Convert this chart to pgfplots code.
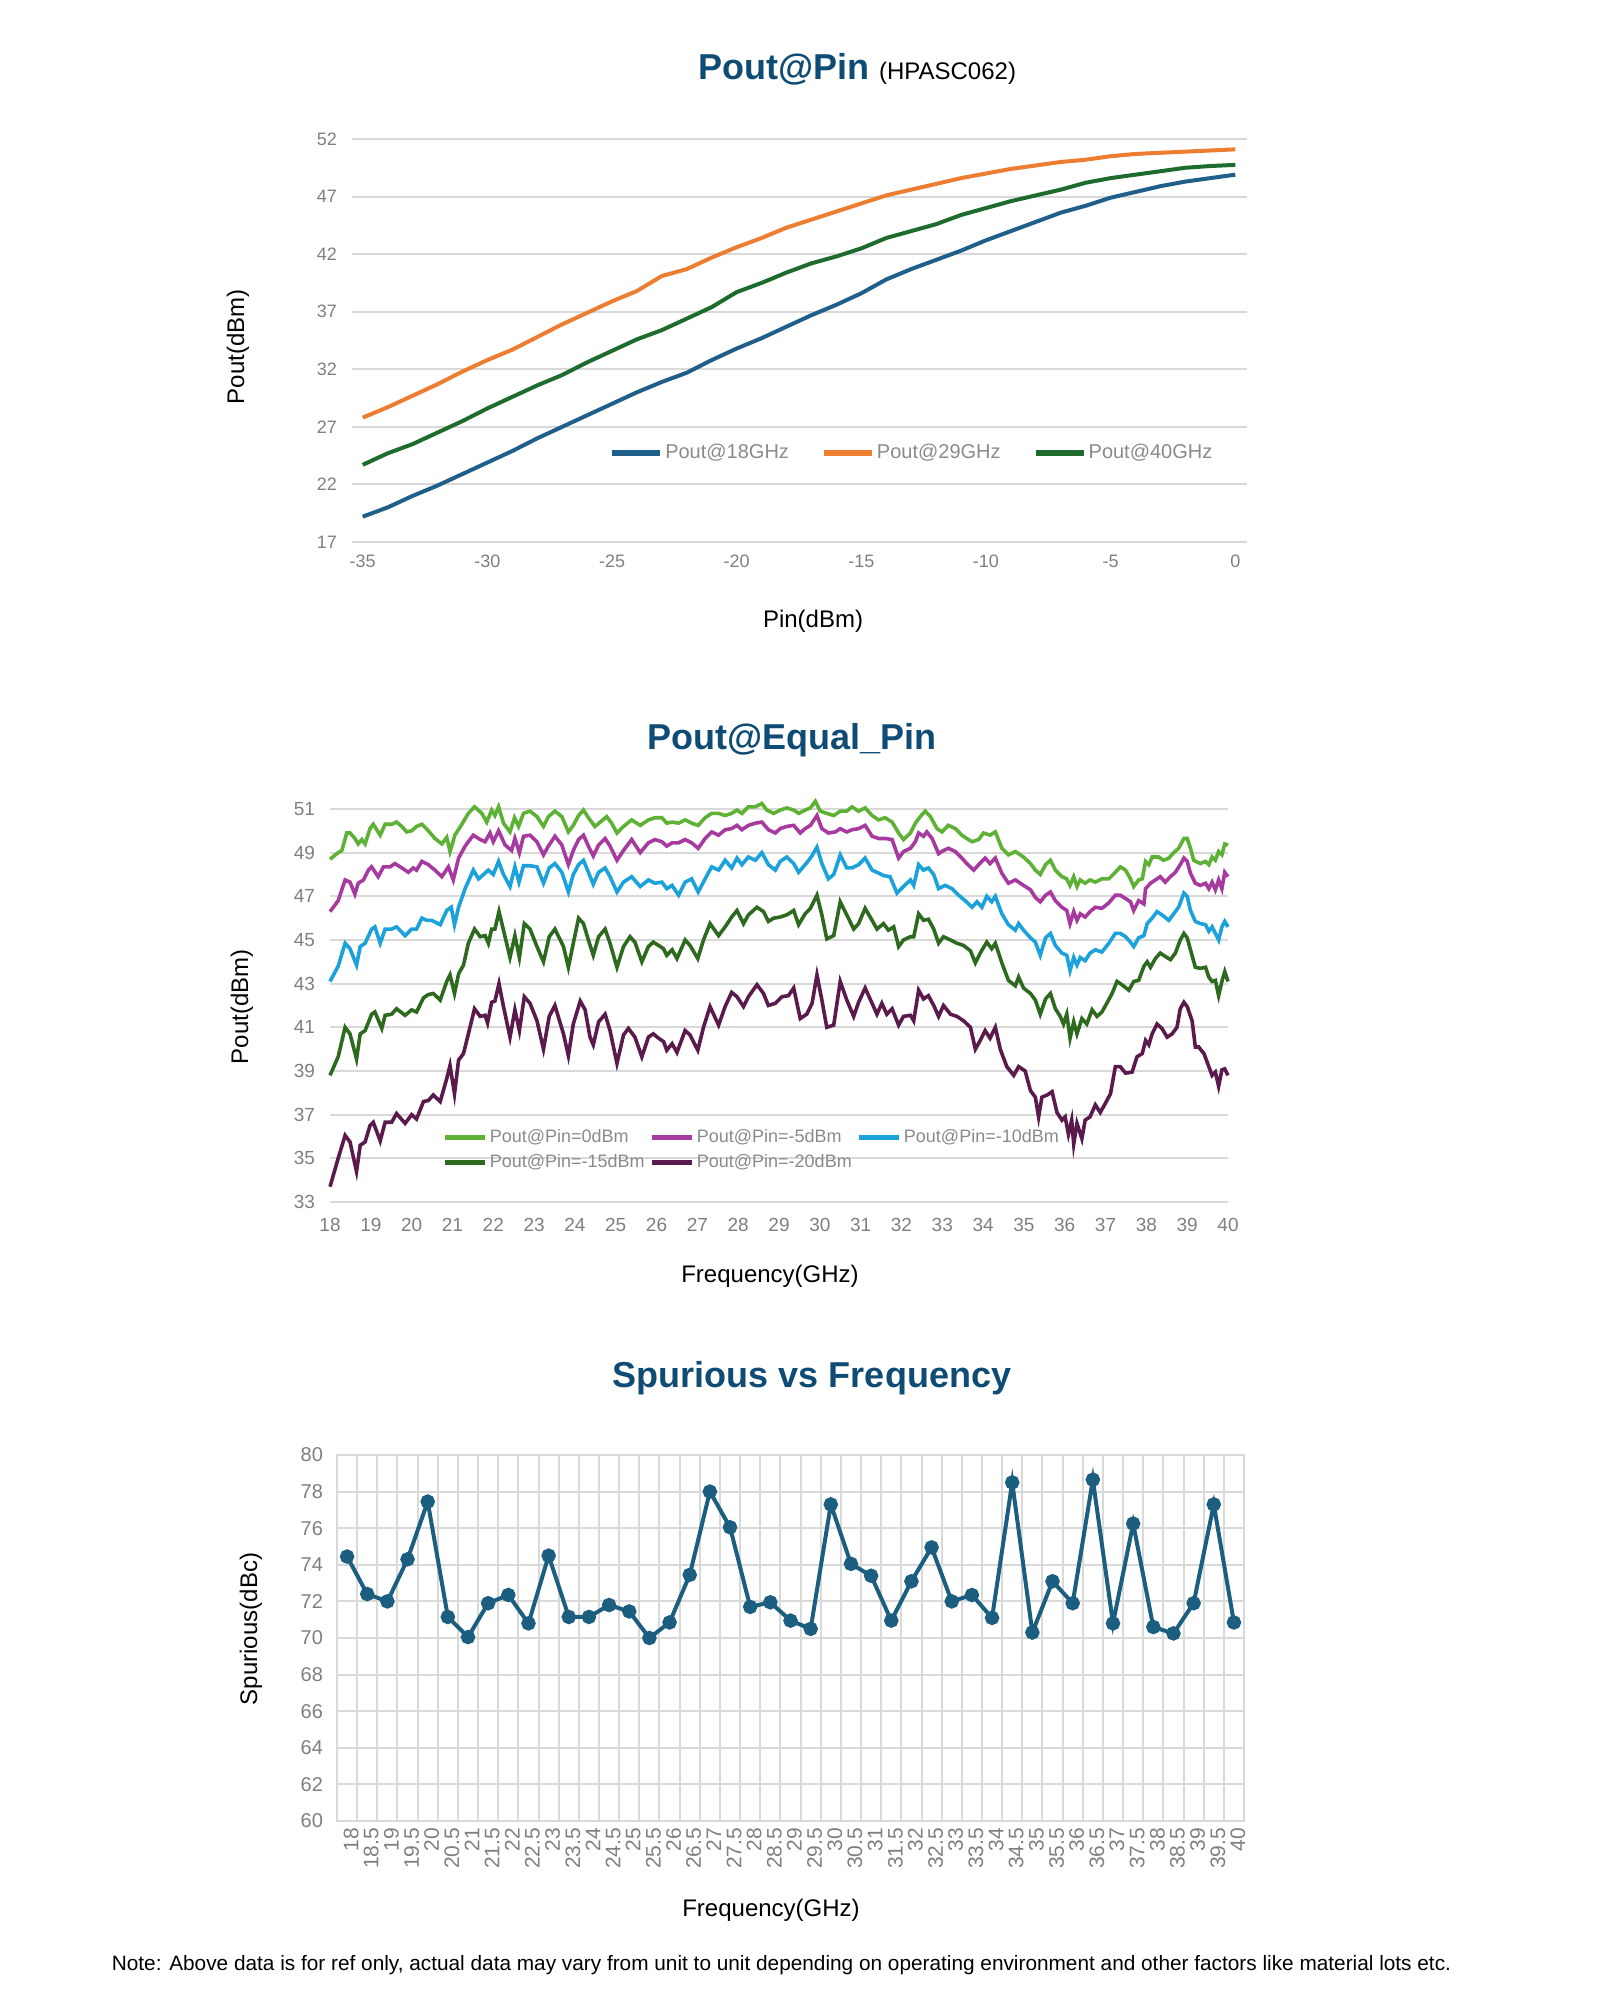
\documentclass[border=0pt]{standalone}
\usepackage{fontspec}
\setmainfont{Liberation Sans}
\usepackage{pgfplots}
\pgfplotsset{compat=1.18}
\definecolor{gridgray}{HTML}{D9D9D9}
\definecolor{tickgray}{HTML}{7F7F7F}
\definecolor{legendgray}{HTML}{8A8A8A}
\definecolor{titleblue}{HTML}{0F4C75}
\definecolor{cA}{HTML}{1F5F8A}
\definecolor{cB}{HTML}{ED7D31}
\definecolor{cC}{HTML}{1E6B2E}
\definecolor{gA}{HTML}{5DB135}
\definecolor{gB}{HTML}{A73A9F}
\definecolor{gC}{HTML}{1CA2DB}
\definecolor{gD}{HTML}{2D6A1F}
\definecolor{gE}{HTML}{5A1B4C}
\definecolor{spur}{HTML}{1B5E80}
\pgfplotsset{
  base/.style={
    scale only axis, anchor=south west,
    axis line style={draw=none},
    major tick length=0pt, minor tick length=0pt,
    ymajorgrids,
    major grid style={line width=1pt, draw=gridgray},
    minor grid style={line width=1pt, draw=gridgray},
    /pgf/number format/assume math mode=true,
  }
}
\begin{document}
\begin{tikzpicture}
\path[use as bounding box] (0pt,0pt) rectangle (800pt,1000pt);

% ---------------- Chart 1 ----------------
\node[anchor=base west, font=\bfseries\fontsize{18}{20}\selectfont, text=titleblue] at (345.5pt,960pt) {Pout@Pin};
\node[anchor=base west, font=\fontsize{12}{14}\selectfont] at (436pt,960pt) {(HPASC062)};
\node[rotate=90, font=\fontsize{12}{14}\selectfont] at (119pt,826.5pt) {Pout(dBm)};
\node[font=\fontsize{12}{14}\selectfont] at (406.5pt,689.5pt) {Pin(dBm)};
\begin{axis}[base,
  at={(176pt,729pt)}, width=447.5pt, height=201.5pt,
  xmin=-35.43, xmax=0.47, ymin=17, ymax=52,
  xtick={-35,-30,...,0}, ytick={17,22,...,52},
  tick label style={font=\fontsize{9}{10}\selectfont, text=tickgray},
  xticklabel style={yshift=-3pt},
  yticklabel style={xshift=-4pt},
  legend columns=3, legend cell align=left,
  legend style={draw=none, fill=none, inner sep=0pt, at={(0.287,0.221)}, anchor=west,
    font=\fontsize{10}{12}\selectfont, text=legendgray,
    nodes={inner xsep=1pt},
    /tikz/every even column/.append style={column sep=15pt}},
  legend image code/.code={\draw[#1, line width=3pt] (0pt,0pt) -- (24pt,0pt);},
]
\addplot[cA, line width=2pt] coordinates {(-35,19.2)(-34,20.0)(-33,21.0)(-32,21.9)(-31,22.9)(-30,23.9)(-29,24.9)(-28,26.0)(-27,27.0)(-26,28.0)(-25,29.0)(-24,30.0)(-23,30.9)(-22,31.7)(-21,32.8)(-20,33.8)(-19,34.7)(-18,35.7)(-17,36.7)(-16,37.6)(-15,38.6)(-14,39.8)(-13,40.7)(-12,41.5)(-11,42.3)(-10,43.2)(-9,44.0)(-8,44.8)(-7,45.6)(-6,46.2)(-5,46.9)(-4,47.4)(-3,47.9)(-2,48.3)(-1,48.6)(0,48.9)};
\addlegendentry{Pout@18GHz}
\addplot[cB, line width=2pt] coordinates {(-35,27.8)(-34,28.7)(-33,29.7)(-32,30.7)(-31,31.8)(-30,32.8)(-29,33.7)(-28,34.8)(-27,35.9)(-26,36.9)(-25,37.9)(-24,38.8)(-23,40.1)(-22,40.7)(-21,41.7)(-20,42.6)(-19,43.4)(-18,44.3)(-17,45.0)(-16,45.7)(-15,46.4)(-14,47.1)(-13,47.6)(-12,48.1)(-11,48.6)(-10,49.0)(-9,49.4)(-8,49.7)(-7,50.0)(-6,50.2)(-5,50.5)(-4,50.7)(-3,50.8)(-2,50.9)(-1,51.0)(0,51.1)};
\addlegendentry{Pout@29GHz}
\addplot[cC, line width=2pt] coordinates {(-35,23.7)(-34,24.7)(-33,25.5)(-32,26.5)(-31,27.5)(-30,28.6)(-29,29.6)(-28,30.6)(-27,31.5)(-26,32.6)(-25,33.6)(-24,34.6)(-23,35.4)(-22,36.4)(-21,37.4)(-20,38.7)(-19,39.5)(-18,40.4)(-17,41.2)(-16,41.8)(-15,42.5)(-14,43.4)(-13,44.0)(-12,44.6)(-11,45.4)(-10,46.0)(-9,46.6)(-8,47.1)(-7,47.6)(-6,48.2)(-5,48.6)(-4,48.9)(-3,49.2)(-2,49.5)(-1,49.65)(0,49.75)};
\addlegendentry{Pout@40GHz}
\end{axis}

% ---------------- Chart 2 ----------------
\node[anchor=base, font=\bfseries\fontsize{18}{20}\selectfont, text=titleblue] at (396pt,625pt) {Pout@Equal\_Pin};
\node[rotate=90, font=\fontsize{12}{14}\selectfont] at (121pt,496.5pt) {Pout(dBm)};
\node[font=\fontsize{12}{14}\selectfont] at (385pt,362pt) {Frequency(GHz)};
\begin{axis}[base,
  at={(165pt,399pt)}, width=449pt, height=196.5pt,
  xmin=18, xmax=40, ymin=33, ymax=51, clip=false,
  xtick={18,19,...,40}, ytick={33,35,...,51},
  tick label style={font=\fontsize{9.5}{11}\selectfont, text=tickgray},
  xticklabel style={yshift=-4.5pt},
  yticklabel style={xshift=-4pt},
  legend columns=3, legend cell align=left,
  legend style={draw=none, fill=none, inner sep=0pt, at={(0.125,0.132)}, anchor=west,
    font=\fontsize{9}{10}\selectfont, text=legendgray,
    nodes={inner xsep=1pt, inner ysep=2.2pt},
    /tikz/every even column/.append style={column sep=1.5pt}},
  legend image code/.code={\draw[#1, line width=2.6pt] (0pt,0pt) -- (20pt,0pt);},
]
\addplot[gA, line width=1.8pt] coordinates {(18.0,48.7)(18.2,49.0)(18.29,49.1)(18.41,49.9)(18.49,49.9)(18.61,49.65)(18.69,49.4)(18.78,49.6)(18.86,49.4)(18.98,50.1)(19.06,50.3)(19.23,49.8)(19.35,50.3)(19.51,50.3)(19.63,50.4)(19.76,50.2)(19.88,49.95)(20.0,50.0)(20.12,50.2)(20.25,50.3)(20.41,50.0)(20.57,49.65)(20.74,49.4)(20.86,49.7)(20.94,49.05)(21.06,49.8)(21.23,50.3)(21.39,50.8)(21.54,51.1)(21.72,50.8)(21.84,50.4)(21.96,50.95)(22.04,50.7)(22.13,51.1)(22.25,50.35)(22.41,49.95)(22.52,50.6)(22.62,50.2)(22.74,50.8)(22.9,50.9)(23.07,50.65)(23.23,50.2)(23.35,50.65)(23.51,50.9)(23.68,50.65)(23.84,49.95)(23.96,50.25)(24.09,50.7)(24.21,50.95)(24.33,50.6)(24.49,50.2)(24.62,50.4)(24.78,50.65)(24.9,50.35)(25.03,49.9)(25.19,50.2)(25.39,50.5)(25.6,50.25)(25.8,50.5)(25.96,50.6)(26.13,50.6)(26.25,50.35)(26.38,50.4)(26.54,50.35)(26.7,50.5)(26.86,50.35)(27.02,50.25)(27.19,50.6)(27.35,50.8)(27.52,50.8)(27.68,50.7)(27.84,50.8)(27.97,50.95)(28.09,50.8)(28.25,51.1)(28.42,51.1)(28.58,51.25)(28.7,50.95)(28.87,50.8)(29.03,50.95)(29.19,51.05)(29.36,50.95)(29.48,50.8)(29.64,50.95)(29.77,51.05)(29.89,51.35)(30.01,50.9)(30.17,50.8)(30.34,50.7)(30.5,50.9)(30.66,50.9)(30.79,51.1)(30.95,50.9)(31.11,51.05)(31.28,50.7)(31.44,50.5)(31.6,50.6)(31.77,50.4)(31.93,49.9)(32.05,49.6)(32.22,49.9)(32.34,50.35)(32.46,50.65)(32.58,50.9)(32.71,50.65)(32.87,50.1)(32.99,49.95)(33.15,50.25)(33.32,50.1)(33.48,49.8)(33.6,49.65)(33.73,49.5)(33.89,49.6)(34.01,49.9)(34.17,49.8)(34.3,49.95)(34.46,49.2)(34.62,48.9)(34.79,49.05)(34.99,48.8)(35.16,48.5)(35.28,48.2)(35.4,48.0)(35.53,48.45)(35.65,48.65)(35.77,48.2)(35.93,47.9)(36.05,47.8)(36.13,47.5)(36.22,47.9)(36.3,47.45)(36.38,47.75)(36.5,47.6)(36.62,47.75)(36.75,47.65)(36.91,47.8)(37.08,47.8)(37.24,48.1)(37.36,48.35)(37.49,48.2)(37.61,47.8)(37.69,47.45)(37.81,47.75)(37.9,47.8)(37.98,48.6)(38.06,48.45)(38.14,48.8)(38.3,48.8)(38.42,48.65)(38.55,48.75)(38.67,49.0)(38.79,49.2)(38.92,49.65)(39.0,49.65)(39.08,49.2)(39.16,48.65)(39.32,48.5)(39.45,48.6)(39.53,48.45)(39.61,48.8)(39.69,48.65)(39.77,49.05)(39.85,48.9)(39.92,49.4)(40.0,49.35)};
\addlegendentry{Pout@Pin=0dBm}
\addplot[gB, line width=1.8pt] coordinates {(18.0,46.3)(18.2,46.8)(18.37,47.75)(18.49,47.65)(18.61,47.1)(18.69,47.6)(18.82,47.75)(18.94,48.2)(19.02,48.35)(19.18,47.9)(19.31,48.35)(19.47,48.35)(19.59,48.5)(19.76,48.3)(19.92,48.1)(20.04,48.3)(20.12,48.2)(20.25,48.6)(20.41,48.45)(20.57,48.2)(20.74,47.9)(20.9,48.35)(21.02,47.75)(21.15,48.75)(21.31,49.3)(21.51,49.8)(21.68,49.6)(21.8,49.5)(21.92,49.9)(22.0,49.5)(22.13,50.0)(22.29,49.35)(22.45,49.1)(22.53,49.65)(22.64,49.0)(22.74,49.75)(22.9,49.8)(23.07,49.5)(23.23,48.9)(23.35,49.3)(23.51,49.75)(23.68,49.35)(23.84,48.45)(23.96,49.1)(24.09,49.6)(24.21,49.8)(24.33,49.3)(24.45,48.85)(24.58,49.35)(24.74,49.65)(24.86,49.3)(25.03,48.65)(25.19,49.1)(25.39,49.6)(25.6,49.0)(25.8,49.45)(25.96,49.6)(26.13,49.5)(26.25,49.3)(26.38,49.45)(26.54,49.45)(26.7,49.6)(26.86,49.45)(27.02,49.2)(27.19,49.65)(27.35,49.95)(27.52,49.8)(27.68,50.05)(27.84,50.1)(27.97,50.25)(28.09,50.05)(28.25,50.25)(28.42,50.35)(28.58,50.4)(28.74,50.05)(28.91,49.9)(29.03,50.1)(29.19,50.2)(29.36,50.25)(29.52,49.9)(29.64,50.1)(29.77,50.25)(29.93,50.7)(30.05,50.1)(30.21,49.9)(30.38,49.95)(30.5,50.1)(30.66,49.95)(30.79,50.05)(30.95,50.1)(31.11,50.25)(31.28,49.75)(31.44,49.65)(31.6,49.65)(31.77,49.6)(31.93,48.75)(32.05,49.05)(32.22,49.2)(32.34,49.5)(32.42,49.9)(32.54,49.75)(32.62,49.95)(32.75,49.65)(32.91,48.95)(33.03,49.1)(33.15,49.2)(33.32,49.05)(33.48,48.75)(33.6,48.5)(33.77,48.2)(33.89,48.45)(34.05,48.75)(34.17,48.5)(34.3,48.75)(34.46,48.05)(34.62,47.6)(34.79,47.75)(34.99,47.5)(35.16,47.3)(35.28,46.95)(35.4,46.75)(35.53,47.05)(35.65,47.2)(35.77,46.8)(35.93,46.5)(36.05,46.35)(36.13,45.75)(36.22,46.3)(36.3,45.9)(36.38,46.2)(36.5,46.05)(36.62,46.3)(36.75,46.5)(36.91,46.45)(37.08,46.7)(37.24,47.05)(37.36,47.05)(37.49,46.9)(37.61,46.75)(37.69,46.35)(37.81,46.8)(37.94,46.65)(37.98,47.35)(38.1,47.6)(38.22,47.75)(38.34,47.9)(38.46,47.65)(38.59,47.9)(38.71,48.1)(38.83,48.45)(38.92,48.75)(39.0,48.6)(39.08,48.05)(39.2,47.6)(39.32,47.5)(39.45,47.6)(39.53,47.35)(39.61,47.65)(39.69,47.3)(39.77,47.75)(39.85,47.35)(39.92,48.1)(40.0,47.9)};
\addlegendentry{Pout@Pin=-5dBm}
\addplot[gC, line width=1.8pt] coordinates {(18.0,43.1)(18.2,43.8)(18.37,44.85)(18.49,44.6)(18.65,43.85)(18.74,44.7)(18.86,44.85)(19.02,45.5)(19.1,45.6)(19.23,44.85)(19.35,45.5)(19.51,45.5)(19.63,45.6)(19.84,45.2)(20.0,45.5)(20.12,45.5)(20.25,46.0)(20.37,45.9)(20.49,45.9)(20.7,45.7)(20.86,46.35)(20.97,46.5)(21.05,45.7)(21.15,46.5)(21.31,47.35)(21.51,48.2)(21.64,47.8)(21.76,48.0)(21.88,48.2)(22.0,48.0)(22.13,48.6)(22.25,48.0)(22.41,47.45)(22.53,48.35)(22.63,47.65)(22.74,48.4)(22.9,48.4)(23.07,48.35)(23.23,47.6)(23.37,48.3)(23.51,48.5)(23.68,48.1)(23.84,47.2)(23.96,48.0)(24.09,48.45)(24.21,48.65)(24.33,48.1)(24.45,47.55)(24.58,48.1)(24.74,48.3)(24.86,47.9)(25.03,47.2)(25.19,47.65)(25.39,47.9)(25.6,47.45)(25.8,47.75)(25.96,47.6)(26.13,47.65)(26.25,47.35)(26.38,47.5)(26.54,47.05)(26.7,47.65)(26.86,47.8)(27.02,47.2)(27.19,47.8)(27.35,48.35)(27.52,48.2)(27.68,48.65)(27.84,48.3)(27.97,48.75)(28.09,48.45)(28.25,48.8)(28.42,48.65)(28.58,49.0)(28.74,48.45)(28.91,48.2)(29.03,48.6)(29.19,48.8)(29.36,48.5)(29.48,48.1)(29.64,48.45)(29.77,48.75)(29.93,49.25)(30.05,48.5)(30.21,47.8)(30.34,48.0)(30.5,48.9)(30.66,48.3)(30.79,48.3)(30.95,48.45)(31.11,48.75)(31.28,48.2)(31.4,48.1)(31.56,47.95)(31.72,47.9)(31.89,47.15)(32.05,47.45)(32.22,47.75)(32.3,47.5)(32.42,48.45)(32.54,48.2)(32.66,48.3)(32.79,48.0)(32.91,47.35)(33.07,47.5)(33.24,47.35)(33.4,47.05)(33.56,46.8)(33.73,46.5)(33.85,46.75)(33.97,46.5)(34.09,47.0)(34.21,46.75)(34.3,47.0)(34.46,46.2)(34.62,45.7)(34.79,45.45)(34.87,45.75)(34.99,45.45)(35.16,45.1)(35.28,44.9)(35.4,44.3)(35.53,45.1)(35.65,45.3)(35.77,44.75)(35.93,44.4)(36.05,44.3)(36.13,43.6)(36.22,44.2)(36.3,43.85)(36.38,44.2)(36.5,44.05)(36.62,44.4)(36.75,44.55)(36.91,44.45)(37.08,44.85)(37.24,45.3)(37.36,45.3)(37.49,45.15)(37.61,44.9)(37.69,44.7)(37.81,45.1)(37.94,45.2)(38.02,45.75)(38.14,46.0)(38.26,46.3)(38.38,46.15)(38.55,45.9)(38.67,46.2)(38.79,46.5)(38.92,47.15)(39.0,47.0)(39.08,46.35)(39.2,45.85)(39.32,45.75)(39.45,45.7)(39.53,45.4)(39.61,45.6)(39.69,45.3)(39.77,45.0)(39.85,45.6)(39.92,45.85)(40.0,45.6)};
\addlegendentry{Pout@Pin=-10dBm}
\addplot[gD, line width=1.8pt] coordinates {(18.0,38.8)(18.2,39.65)(18.37,41.0)(18.49,40.7)(18.65,39.55)(18.74,40.7)(18.86,40.85)(19.02,41.6)(19.1,41.7)(19.27,40.95)(19.35,41.55)(19.51,41.6)(19.63,41.85)(19.84,41.55)(20.0,41.8)(20.12,41.7)(20.29,42.35)(20.41,42.5)(20.53,42.55)(20.7,42.25)(20.86,43.1)(20.94,43.4)(21.05,42.55)(21.15,43.45)(21.27,43.85)(21.39,44.85)(21.54,45.5)(21.68,45.15)(21.8,45.2)(21.88,44.85)(21.96,45.5)(22.04,45.5)(22.14,46.3)(22.25,45.45)(22.41,44.2)(22.53,45.2)(22.64,44.2)(22.76,45.75)(22.9,45.5)(23.07,44.7)(23.23,44.0)(23.37,45.15)(23.51,45.5)(23.72,44.7)(23.84,43.75)(23.96,44.85)(24.09,46.0)(24.21,45.75)(24.33,45.0)(24.45,44.3)(24.58,45.15)(24.74,45.5)(24.86,44.85)(25.03,43.75)(25.19,44.7)(25.35,45.15)(25.47,44.9)(25.64,44.0)(25.8,44.7)(25.92,44.9)(26.05,44.75)(26.17,44.6)(26.25,44.3)(26.38,44.55)(26.5,44.15)(26.7,45.0)(26.82,44.75)(27.01,44.15)(27.15,45.0)(27.31,45.75)(27.52,45.2)(27.68,45.6)(27.84,46.05)(27.97,46.35)(28.13,45.75)(28.25,46.15)(28.46,46.5)(28.62,46.3)(28.74,45.85)(28.87,46.0)(29.03,46.05)(29.19,46.15)(29.36,46.35)(29.48,45.7)(29.64,46.2)(29.77,46.45)(29.93,47.05)(30.05,46.15)(30.17,45.05)(30.34,45.2)(30.5,46.75)(30.66,46.15)(30.83,45.5)(30.95,45.75)(31.11,46.45)(31.28,45.9)(31.4,45.5)(31.56,45.75)(31.68,45.45)(31.81,45.6)(31.93,44.7)(32.05,45.0)(32.22,45.15)(32.3,45.15)(32.42,46.2)(32.54,45.9)(32.66,45.95)(32.79,45.5)(32.91,44.85)(33.03,45.15)(33.2,45.0)(33.36,44.85)(33.52,44.75)(33.69,44.5)(33.81,43.95)(33.93,44.4)(34.09,44.9)(34.21,44.6)(34.3,44.85)(34.46,43.95)(34.62,43.15)(34.79,42.9)(34.87,43.3)(34.99,42.8)(35.16,42.55)(35.28,42.25)(35.4,41.6)(35.53,42.3)(35.65,42.55)(35.77,41.85)(35.89,41.5)(35.97,41.15)(36.05,41.6)(36.13,40.5)(36.22,41.25)(36.3,40.7)(36.42,41.4)(36.54,41.15)(36.67,41.8)(36.79,41.5)(36.91,41.7)(37.03,42.1)(37.16,42.55)(37.28,43.1)(37.4,42.95)(37.57,42.7)(37.69,43.1)(37.81,43.15)(37.94,43.8)(38.02,44.0)(38.1,43.75)(38.22,44.15)(38.34,44.4)(38.46,44.25)(38.59,44.1)(38.71,44.4)(38.83,45.0)(38.92,45.3)(39.0,45.1)(39.08,44.55)(39.2,43.75)(39.32,43.7)(39.45,43.75)(39.53,43.3)(39.61,43.1)(39.69,43.15)(39.77,42.45)(39.85,43.1)(39.92,43.55)(40.0,43.1)};
\addlegendentry{Pout@Pin=-15dBm}
\addplot[gE, line width=1.8pt] coordinates {(18.0,33.7)(18.2,35.0)(18.37,36.05)(18.49,35.75)(18.65,34.4)(18.74,35.6)(18.86,35.75)(18.98,36.5)(19.06,36.65)(19.23,35.8)(19.35,36.65)(19.51,36.65)(19.63,37.05)(19.84,36.6)(20.0,37.0)(20.12,36.8)(20.29,37.6)(20.41,37.65)(20.53,37.9)(20.7,37.6)(20.86,38.65)(20.94,39.25)(21.05,37.95)(21.15,39.5)(21.27,39.8)(21.39,40.7)(21.54,41.85)(21.68,41.5)(21.8,41.55)(21.86,41.2)(21.96,42.15)(22.04,42.2)(22.14,43.0)(22.25,41.95)(22.41,40.55)(22.53,41.8)(22.64,40.85)(22.76,42.4)(22.9,42.1)(23.07,41.3)(23.23,40.0)(23.37,41.5)(23.51,42.0)(23.72,40.7)(23.84,39.7)(23.96,41.15)(24.13,42.2)(24.25,41.8)(24.37,40.55)(24.45,40.2)(24.58,41.25)(24.74,41.6)(24.86,40.85)(25.03,39.35)(25.19,40.65)(25.31,40.95)(25.47,40.55)(25.64,39.65)(25.8,40.55)(25.92,40.7)(26.05,40.5)(26.17,40.35)(26.25,39.95)(26.38,40.25)(26.5,39.85)(26.7,40.85)(26.82,40.65)(27.01,39.95)(27.15,41.0)(27.31,41.95)(27.52,41.1)(27.68,41.95)(27.84,42.6)(27.97,42.4)(28.13,41.95)(28.25,42.4)(28.46,42.95)(28.62,42.55)(28.74,42.0)(28.91,42.1)(29.07,42.4)(29.23,42.45)(29.36,42.8)(29.52,41.4)(29.68,41.6)(29.81,42.1)(29.93,43.4)(30.05,42.25)(30.17,41.0)(30.34,41.1)(30.5,43.1)(30.66,42.25)(30.83,41.5)(30.95,42.15)(31.11,42.8)(31.28,42.1)(31.4,41.6)(31.52,42.1)(31.64,41.6)(31.77,41.85)(31.93,41.1)(32.05,41.5)(32.22,41.55)(32.3,41.3)(32.42,42.7)(32.54,42.3)(32.66,42.45)(32.79,42.0)(32.91,41.5)(33.03,42.0)(33.2,41.6)(33.36,41.5)(33.52,41.3)(33.69,41.0)(33.81,40.0)(33.93,40.4)(34.05,40.85)(34.17,40.5)(34.3,41.0)(34.42,40.0)(34.58,39.2)(34.75,38.8)(34.87,39.2)(35.03,39.0)(35.16,38.1)(35.28,37.8)(35.36,36.9)(35.44,37.8)(35.57,37.9)(35.69,38.05)(35.81,37.1)(35.93,36.75)(36.01,36.9)(36.09,36.1)(36.17,36.75)(36.22,35.65)(36.3,36.6)(36.42,35.9)(36.5,36.75)(36.62,36.9)(36.75,37.45)(36.87,37.1)(36.99,37.5)(37.12,37.95)(37.24,39.2)(37.36,39.2)(37.49,38.9)(37.65,38.95)(37.77,39.65)(37.9,39.8)(37.98,40.4)(38.06,40.2)(38.14,40.7)(38.26,41.15)(38.38,40.95)(38.51,40.55)(38.63,40.7)(38.75,41.0)(38.83,41.85)(38.92,42.15)(39.0,41.95)(39.12,41.3)(39.2,40.1)(39.28,40.1)(39.41,39.8)(39.53,39.2)(39.61,38.8)(39.69,38.95)(39.77,38.3)(39.85,39.05)(39.92,39.1)(40.0,38.8)};
\addlegendentry{Pout@Pin=-20dBm}
\end{axis}

% ---------------- Chart 3 ----------------
\node[anchor=base, font=\bfseries\fontsize{18}{20}\selectfont, text=titleblue] at (406pt,306pt) {Spurious vs Frequency};
\node[rotate=90, font=\fontsize{12}{14}\selectfont] at (125.5pt,185.5pt) {Spurious(dBc)};
\node[font=\fontsize{12}{14}\selectfont] at (385.5pt,45pt) {Frequency(GHz)};
\begin{axis}[base,
  at={(168.5pt,89.5pt)}, width=453.5pt, height=183pt,
  xmin=-0.5, xmax=44.5, ymin=60, ymax=80,
  axis line style={draw=gridgray, line width=1pt},
  xtick={0,...,44},
  xticklabels={18,18.5,19,19.5,20,20.5,21,21.5,22,22.5,23,23.5,24,24.5,25,25.5,26,26.5,27,27.5,28,28.5,29,29.5,30,30.5,31,31.5,32,32.5,33,33.5,34,34.5,35,35.5,36,36.5,37,37.5,38,38.5,39,39.5,40},
  minor xtick={-0.5,0.5,...,44.5},
  xminorgrids,
  ytick={60,62,...,80},
  tick label style={font=\fontsize{10}{11}\selectfont, text=tickgray},
  xticklabel style={rotate=90, anchor=east, yshift=-2pt, font=\fontsize{10.5}{11}\selectfont},
  yticklabel style={xshift=-3.5pt},
]
\addplot[spur, line width=2pt, mark=*, mark size=2.6pt, mark options={fill=spur, draw=spur}] coordinates {(0,74.45)(1,72.4)(2,72.0)(3,74.3)(4,77.45)(5,71.15)(6,70.05)(7,71.9)(8,72.35)(9,70.8)(10,74.5)(11,71.15)(12,71.15)(13,71.8)(14,71.45)(15,70.0)(16,70.85)(17,73.45)(18,78.0)(19,76.05)(20,71.7)(21,71.95)(22,70.95)(23,70.5)(24,77.3)(25,74.05)(26,73.4)(27,70.95)(28,73.1)(29,74.95)(30,72.0)(31,72.35)(32,71.1)(33,78.5)(34,70.3)(35,73.1)(36,71.9)(37,78.65)(38,70.8)(39,76.25)(40,70.6)(41,70.25)(42,71.9)(43,77.3)(44,70.85)};
\end{axis}

\node[anchor=base, font=\fontsize{10.4}{12}\selectfont] at (390.75pt,14.5pt) {Note: Above data is for ref only, actual data may vary from unit to unit depending on operating environment and other factors like material lots etc.};
\end{tikzpicture}
\end{document}
